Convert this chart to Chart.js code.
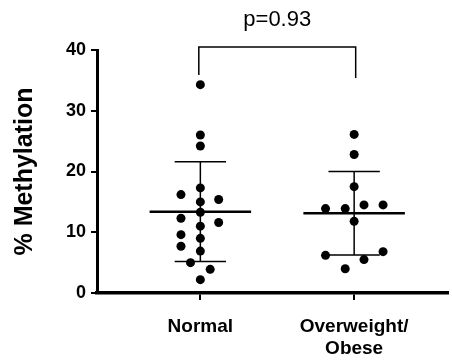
<!DOCTYPE html>
<html>
<head>
<meta charset="utf-8">
<script src="https://cdn.jsdelivr.net/npm/chart.js@4/dist/chart.umd.min.js"></script>
<style>
  html, body { margin: 0; padding: 0; background: #fff; }
  #chart { display: block; }
</style>
</head>
<body>
<canvas id="chart" width="452" height="363"></canvas>
<script>
// groups along the x axis
var categories = ['Normal', ['Overweight/', 'Obese']];

// % methylation
var normalValues = [34.3, 26.0, 24.2, 17.3, 16.2, 15.4, 15.0, 13.3, 12.3, 11.6, 11.0, 9.6, 9.0, 7.7, 6.9, 5.0, 3.9, 2.2];
var normalJitter = [0, 0, 0, 0, -0.126, 0.119, 0, 0, -0.126, 0.119, 0, -0.126, 0, -0.126, 0, -0.064, 0.064, 0];

var overweightValues = [26.1, 22.8, 17.5, 14.5, 14.5, 13.9, 13.9, 11.8, 6.8, 6.2, 5.5, 4.0];
var overweightJitter = [0, 0, 0, 0.064, 0.188, -0.186, -0.058, 0, 0.188, -0.186, 0.064, -0.058];

var yTicks = [0, 10, 20, 30, 40];

// comparison bracket
var pLabel = 'p=0.93';
var bracketX = [0.99, 2.01];
var bracketTop = 40.5;
var bracketLegs = [35.9, 35.4];

(function () {
  var FONT = '"Liberation Sans", Arial, Helvetica, sans-serif';

  function mean(arr) {
    return arr.reduce(function (a, b) { return a + b; }, 0) / arr.length;
  }

  function sd(arr) {
    var m = mean(arr);
    var s = arr.reduce(function (a, b) { return a + (b - m) * (b - m); }, 0);
    return Math.sqrt(s / (arr.length - 1));
  }

  function dots(values, jitter, pos) {
    return values.map(function (v, i) {
      return { x: pos + jitter[i], y: v };
    });
  }

  function meanLine(values, pos) {
    var m = mean(values);
    return [{ x: pos - 0.33, y: m }, { x: pos + 0.33, y: m }];
  }

  function sdBars(values, pos) {
    var m = mean(values), s = sd(values);
    return [
      { x: pos - 0.167, y: m + s }, { x: pos + 0.167, y: m + s }, { x: pos, y: null },
      { x: pos, y: m + s }, { x: pos, y: m - s }, { x: pos, y: null },
      { x: pos - 0.167, y: m - s }, { x: pos + 0.167, y: m - s }
    ];
  }

  function lineSet(data, width) {
    return {
      data: data,
      showLine: true,
      spanGaps: false,
      borderColor: '#000',
      borderWidth: width,
      pointRadius: 0,
      pointHoverRadius: 0,
      fill: false
    };
  }

  function dotSet(data) {
    return {
      data: data,
      showLine: false,
      pointRadius: 4.5,
      pointHoverRadius: 4.5,
      pointBackgroundColor: '#000',
      pointBorderWidth: 0,
      borderColor: '#000'
    };
  }

  var bracket = lineSet([
    { x: bracketX[0], y: bracketLegs[0] },
    { x: bracketX[0], y: bracketTop },
    { x: bracketX[1], y: bracketTop },
    { x: bracketX[1], y: bracketLegs[1] }
  ], 1.5);
  bracket.clip = false;

  var pValuePlugin = {
    id: 'pValue',
    afterDraw: function (chart) {
      var ctx = chart.ctx;
      var xs = chart.scales.x, ys = chart.scales.y;
      ctx.save();
      ctx.font = '22px ' + FONT;
      ctx.fillStyle = '#000';
      ctx.textAlign = 'center';
      ctx.textBaseline = 'alphabetic';
      ctx.fillText(pLabel, xs.getPixelForValue((bracketX[0] + bracketX[1]) / 2), ys.getPixelForValue(bracketTop) - 21);
      ctx.restore();
    }
  };

  new Chart(document.getElementById('chart').getContext('2d'), {
    type: 'scatter',
    data: {
      datasets: [
        lineSet(meanLine(normalValues, 1), 2.5),
        lineSet(sdBars(normalValues, 1), 1.5),
        lineSet(meanLine(overweightValues, 2), 2.5),
        lineSet(sdBars(overweightValues, 2), 1.5),
        bracket,
        dotSet(dots(normalValues, normalJitter, 1)),
        dotSet(dots(overweightValues, overweightJitter, 2))
      ]
    },
    options: {
      responsive: false,
      animation: false,
      devicePixelRatio: 1,
      layout: {
        padding: { top: 50, right: 0, bottom: 0, left: 0 }
      },
      plugins: {
        legend: { display: false },
        tooltip: { enabled: false }
      },
      scales: {
        x: {
          type: 'linear',
          min: 0.328,
          max: 2.607,
          afterFit: function (scale) { scale.height = 70; },
          afterBuildTicks: function (scale) {
            scale.ticks = categories.map(function (c, i) { return { value: i + 1 }; });
          },
          border: { display: true, color: '#000', width: 3.5 },
          grid: {
            display: true,
            drawOnChartArea: false,
            drawTicks: true,
            tickLength: 7,
            color: '#000',
            lineWidth: 2
          },
          ticks: {
            autoSkip: false,
            maxRotation: 0,
            minRotation: 0,
            padding: 15,
            color: '#000',
            font: { family: FONT, size: 19, weight: 'bold', lineHeight: 1.2 },
            callback: function (value) {
              return categories[Math.round(value) - 1];
            }
          }
        },
        y: {
          min: 0,
          max: 40,
          afterFit: function (scale) { scale.width = 97; },
          afterBuildTicks: function (scale) {
            scale.ticks = yTicks.map(function (v) { return { value: v }; });
          },
          border: { display: true, color: '#000', width: 3 },
          grid: {
            display: true,
            drawOnChartArea: false,
            drawTicks: true,
            tickLength: 6,
            color: '#000',
            lineWidth: 2
          },
          ticks: {
            padding: 5,
            color: '#000',
            font: { family: FONT, size: 18, weight: 'bold' }
          },
          title: {
            display: true,
            text: '% Methylation',
            color: '#000',
            padding: { top: 10, bottom: 0 },
            font: { family: FONT, size: 25, weight: 'bold' }
          }
        }
      }
    },
    plugins: [pValuePlugin]
  });
})();
</script>
</body>
</html>
